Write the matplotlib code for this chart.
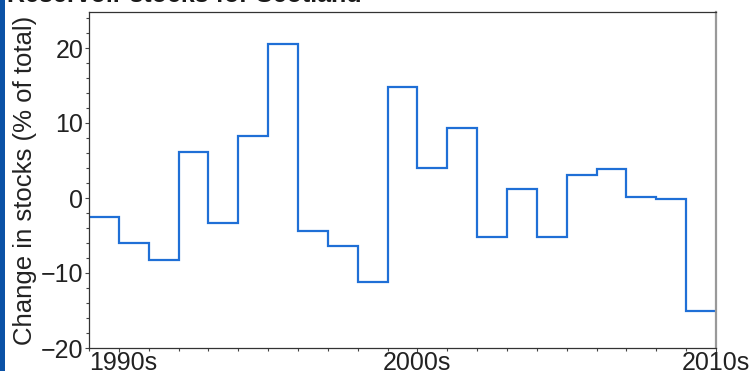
import matplotlib
matplotlib.use('Agg')
import matplotlib.pyplot as plt
import matplotlib.transforms as mtransforms
from matplotlib.patches import Rectangle
from matplotlib.ticker import MultipleLocator

plt.rcParams['font.family'] = ['Liberation Sans', 'DejaVu Sans']

# yearly change in reservoir stocks, one value per year
years = list(range(1989, 2010))
change = [-2.5, -6.0, -8.3, 6.2, -3.3, 8.3, 20.5, -4.4, -6.4, -11.2, 14.8,
          4.0, 9.3, -5.2, 1.2, -5.2, 3.1, 3.9, 0.2, -0.1, -15.0]
decade_ticks = [1990, 2000, 2010]
decade_labels = ['1990s', '2000s', '2010s']

W, H = 755, 371
fig = plt.figure(figsize=(W / 100, H / 100), dpi=100)
ax = fig.add_axes([89 / W, (H - 348) / H, (716 - 89) / W, (348 - 12) / H])

edges = years + [years[-1] + 1]
ax.stairs(change, edges, baseline=None, color='#1f6fd6', linewidth=1.6)

ax.set_xlim(edges[0], edges[-1])
ax.set_ylim(-20, 24.8)

ax.set_xticks(decade_ticks)
ax.set_xticklabels(decade_labels)
ax.xaxis.set_minor_locator(MultipleLocator(1))
ax.yaxis.set_major_locator(MultipleLocator(10))
ax.yaxis.set_minor_locator(MultipleLocator(2))
ax.tick_params(axis='both', which='major', direction='out', length=3,
               width=0.8, color='#444444', labelsize=18, labelcolor='#222222', pad=1)
ax.tick_params(axis='x', which='major', pad=-1)
ax.tick_params(axis='both', which='minor', direction='out', length=2,
               width=0.8, color='#444444')

# first decade label sits a little to the right
first = ax.get_xticklabels()[0]
first.set_transform(first.get_transform() +
                    mtransforms.ScaledTranslation(4 / 100, 0, fig.dpi_scale_trans))

ax.set_ylabel('Change in stocks (% of total)', fontsize=18.5, color='#222222', labelpad=3)

for side in ['left', 'bottom', 'top']:
    ax.spines[side].set_color('#333333')
    ax.spines[side].set_linewidth(0.9)
ax.spines['right'].set_color('#999999')
ax.spines['right'].set_linewidth(1.6)

# cropped heading and side accent bar
fig.text(7 / W, 1 - 2.5 / H, 'Reservoir stocks for Scotland', fontsize=18,
         fontweight='bold', color='#1a1a1a', ha='left', va='baseline')
fig.patches.append(Rectangle((0, 0), 5 / W, 1, transform=fig.transFigure,
                             facecolor='#0b52a6', edgecolor='none'))

fig.savefig('out.png', dpi=100)
